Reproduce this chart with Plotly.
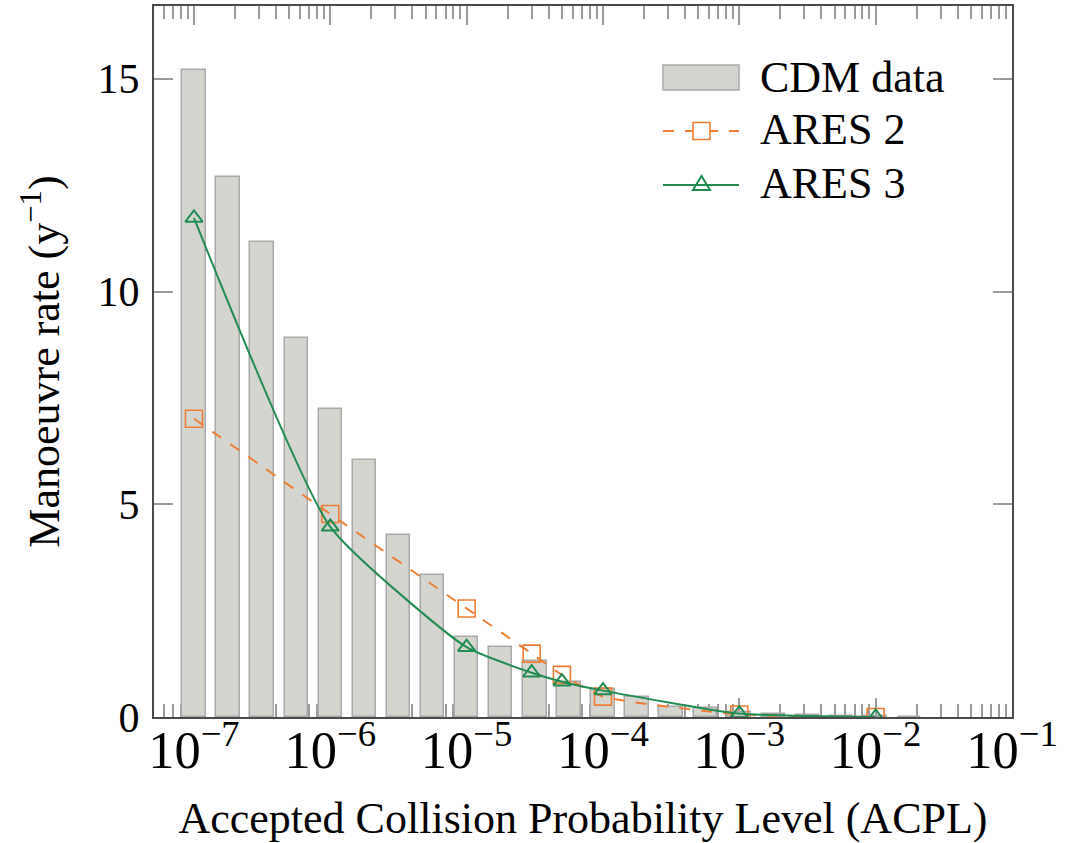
import plotly.graph_objects as go

# CDM histogram: bins every quarter decade of ACPL (log10 of the bin centre)
bin_exponents = [-7.0, -6.75, -6.5, -6.25, -6.0, -5.75, -5.5, -5.25, -5.0, -4.75, -4.5,
                 -4.25, -4.0, -3.75, -3.5, -3.25, -3.0, -2.75, -2.5, -2.25, -2.0, -1.75]
cdm_rate = [15.21, 12.70, 11.17, 8.90, 7.24, 6.05, 4.27, 3.33, 1.89, 1.65, 1.31,
            0.82, 0.65, 0.47, 0.23, 0.22, 0.11, 0.07, 0.04, 0.03, 0.02, 0.01]

# ARES model runs
acpl_levels = [1e-7, 1e-6, 1e-5, 3e-5, 5e-5, 1e-4, 1e-3, 1e-2]
ares2_rate = [7.01, 4.77, 2.55, 1.49, 0.99, 0.48, 0.06, 0.0]
ares3_rate = [11.73, 4.47, 1.64, 1.04, 0.83, 0.62, 0.08, 0.0]

legend_labels = ["CDM data", "ARES 2", "ARES 3"]
x_title = "Accepted Collision Probability Level (ACPL)"
y_title = "Manoeuvre rate (y<sup>−1</sup>)"

FONT = "'Liberation Serif', 'Times New Roman', Times, serif"
BAR_FILL = "#d5d5d0"
BAR_EDGE = "#a9a9a9"
ORANGE = "#ef7d33"
GREEN = "#1f8c50"
SPINE = "#4a4a4a"
TICK = "#9a9a9a"

W, H = 1077, 843
ML, MR, MT, MB = 154, 65, 6, 126
XLOG_RANGE = [-7.293, -1.0]
Y_RANGE = [0, 16.71]

fig = go.Figure()

fig.add_trace(go.Bar(
    x=bin_exponents, y=cdm_rate, width=0.1717,
    marker=dict(color=BAR_FILL, line=dict(color=BAR_EDGE, width=1.5)),
    name=legend_labels[0], xaxis="x", yaxis="y", showlegend=False,
))

fig.add_trace(go.Scatter(
    x=acpl_levels, y=ares2_rate, mode="lines+markers",
    line=dict(color=ORANGE, width=2, dash="11px,11px", shape="spline", smoothing=0.5),
    marker=dict(symbol="square-open", size=17, color=ORANGE, line=dict(width=1.6, color=ORANGE)),
    name=legend_labels[1], xaxis="x2", yaxis="y", showlegend=False,
))

fig.add_trace(go.Scatter(
    x=acpl_levels, y=ares3_rate, mode="lines+markers",
    line=dict(color=GREEN, width=2, shape="spline", smoothing=0.5),
    marker=dict(symbol="triangle-up-open", size=15, color=GREEN, line=dict(width=2, color=GREEN)),
    name=legend_labels[2], xaxis="x2", yaxis="y", showlegend=False,
))

# hand-drawn legend in the upper right corner (pixel positions -> paper units)
pw, ph = W - ML - MR, H - MT - MB


def px(x):
    return (x - ML) / pw


def py(y):
    return 1 - (y - MT) / ph


shapes = [
    dict(type="rect", xref="paper", yref="paper", x0=px(663), x1=px(739), y0=py(90), y1=py(65),
         fillcolor=BAR_FILL, line=dict(color=BAR_EDGE, width=1.5), layer="above"),
    dict(type="line", xref="paper", yref="paper", x0=px(663), x1=px(739), y0=py(131), y1=py(131),
         line=dict(color=ORANGE, width=2, dash="11px,11px")),
    dict(type="rect", xref="paper", yref="paper", x0=px(693), x1=px(710), y0=py(139.5), y1=py(122.5),
         fillcolor="white", line=dict(color=ORANGE, width=1.6)),
    dict(type="line", xref="paper", yref="paper", x0=px(663), x1=px(739), y0=py(185), y1=py(185),
         line=dict(color=GREEN, width=2)),
    dict(type="path", xref="paper", yref="paper",
         path=f"M{px(693)},{py(190)} L{px(710)},{py(190)} L{px(701.5)},{py(176)} Z",
         fillcolor="rgba(0,0,0,0)", line=dict(color=GREEN, width=2)),
]

annotations = []
for label, yc in zip(legend_labels, [77, 130, 183]):
    annotations.append(dict(
        xref="paper", yref="paper", x=px(758), y=py(yc), text=label, showarrow=False,
        xanchor="left", yanchor="middle", font=dict(family=FONT, size=44, color="black"),
    ))

fig.update_layout(
    width=W, height=H,
    margin=dict(l=ML, r=MR, t=MT, b=MB, autoexpand=False),
    paper_bgcolor="white", plot_bgcolor="white",
    font=dict(family=FONT, size=42, color="black"),
    bargap=0,
    shapes=shapes,
    annotations=annotations,
    xaxis=dict(
        type="linear", range=XLOG_RANGE, visible=False, fixedrange=True, automargin=False,
    ),
    xaxis2=dict(
        type="log", range=XLOG_RANGE, overlaying="x", side="bottom", anchor="y",
        tickmode="linear", tick0=0, dtick=1, exponentformat="power",
        ticks="inside", ticklen=19, tickwidth=1.5, tickcolor=TICK,
        minor=dict(ticks="inside", ticklen=13, tickwidth=1.5, tickcolor=TICK, dtick="D1", showgrid=False),
        showline=True, linecolor=SPINE, linewidth=2, mirror="ticks",
        showgrid=False, zeroline=False, layer="below traces", automargin=False,
        tickfont=dict(family=FONT, size=42), ticklabelstandoff=-12,
        title=dict(text=x_title, font=dict(family=FONT, size=44), standoff=37),
    ),
    yaxis=dict(
        range=Y_RANGE, tickvals=[0, 5, 10, 15],
        ticks="inside", ticklen=19, tickwidth=1.5, tickcolor=TICK,
        showline=True, linecolor=SPINE, linewidth=2, mirror="ticks",
        showgrid=False, zeroline=False, layer="below traces", automargin=False,
        tickfont=dict(family=FONT, size=42), ticklabelstandoff=4,
        title=dict(text=y_title, font=dict(family=FONT, size=44), standoff=24),
    ),
)

fig.write_html("out.html")
